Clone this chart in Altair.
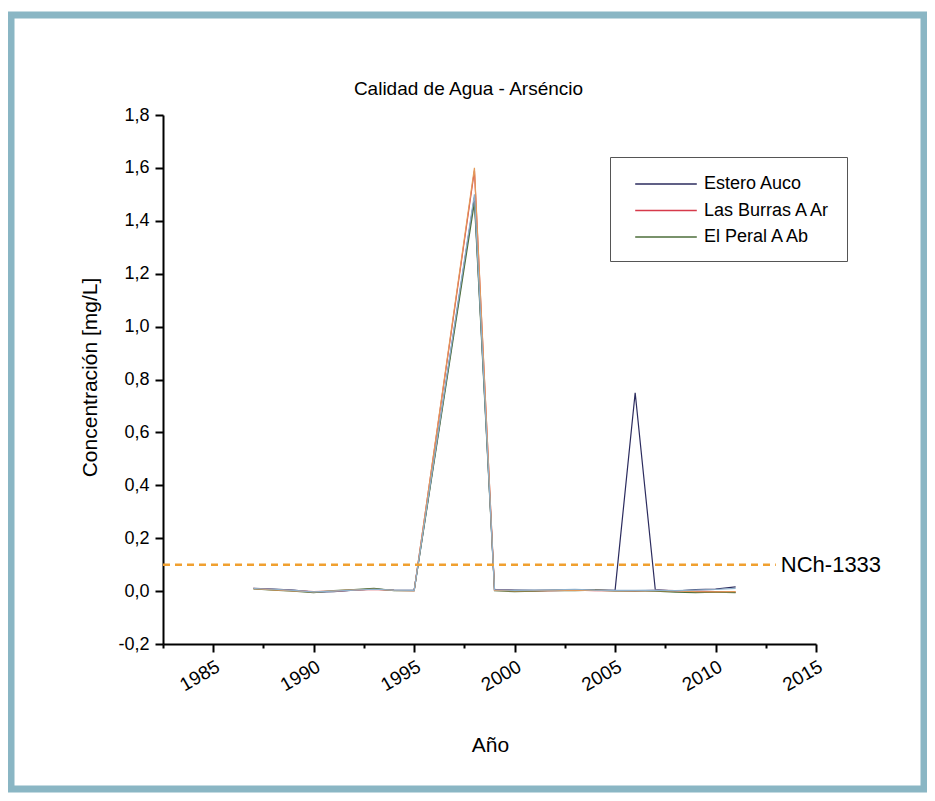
import altair as alt
import pandas as pd

FONT = "Liberation Sans"

# ---------------- data ----------------
years = [1987, 1988, 1989, 1990, 1991, 1992, 1993, 1994, 1995, 1998, 1999,
         2000, 2001, 2002, 2003, 2004, 2005, 2006, 2007, 2008, 2009, 2010, 2011]

estero_auco = [0.010, 0.008, 0.004, -0.004, -0.002, 0.004, 0.008, 0.004, 0.003, 1.49, 0.006,
               0.004, 0.003, 0.004, 0.006, 0.005, 0.003, 0.75, 0.006, 0.000, 0.006, 0.008, 0.016]
las_burras = [0.010, 0.006, 0.002, -0.002, 0.000, 0.004, 0.006, 0.003, 0.002, 1.59, 0.004,
              0.002, 0.001, 0.002, 0.004, 0.002, 0.002, 0.001, 0.003, 0.002, 0.000, -0.002, -0.004]
el_peral = [0.008, 0.004, 0.000, -0.006, 0.002, 0.006, 0.010, 0.002, 0.002, 1.47, 0.002,
            -0.002, 0.000, 0.003, 0.002, 0.004, 0.001, 0.002, 0.000, -0.004, -0.006, -0.004, -0.006]
serie_4 = [0.009, 0.005, 0.001, -0.003, 0.001, 0.005, 0.007, 0.003, 0.002, 1.60, 0.003,
           0.001, 0.002, 0.003, 0.003, 0.003, 0.002, 0.002, 0.002, 0.001, -0.002, -0.003, -0.002]
serie_5 = [0.010, 0.007, 0.003, -0.003, 0.000, 0.004, 0.007, 0.004, 0.003, 1.50, 0.005,
           0.003, 0.004, 0.005, 0.007, 0.004, 0.003, 0.003, 0.004, 0.002, 0.004, 0.006, 0.010]

series_names = ["Estero Auco", "Las Burras A Ar", "El Peral A Ab", "Serie 4", "Serie 5"]
legend_names = ["Estero Auco", "Las Burras A Ar", "El Peral A Ab"]
series_colors = ["#2b2b5e", "#d63a4a", "#4d6e3a", "#e39a5a", "#8fb0cc"]
series_values = [estero_auco, las_burras, el_peral, serie_4, serie_5]

norma_value = [0.1]
norma_label = ["NCh-1333"]
norma_x_start = [1982.5]
norma_x_end = [2013.0]

x_tick_values = [1982.5, 1985, 1987.5, 1990, 1992.5, 1995, 1997.5, 2000,
                 2002.5, 2005, 2007.5, 2010, 2012.5, 2015]
y_tick_values = [-0.2, -0.1, 0.0, 0.1, 0.2, 0.3, 0.4, 0.5, 0.6, 0.7, 0.8,
                 0.9, 1.0, 1.1, 1.2, 1.3, 1.4, 1.5, 1.6, 1.7, 1.8]

rows = []
for name, vals in zip(series_names, series_values):
    for yr, v in zip(years, vals):
        rows.append({"year": yr, "value": v, "serie": name})
df = pd.DataFrame(rows)

ref_df = pd.DataFrame({"x": norma_x_start, "x2": norma_x_end, "y": norma_value, "label": norma_label})
frame_df = pd.DataFrame({"a": [0]})

# ---------------- scales / axes ----------------
x_scale = alt.Scale(domain=[1982.5, 2015], nice=False, zero=False)
y_scale = alt.Scale(domain=[-0.2, 1.8], nice=False, zero=False)

x_axis = alt.Axis(
    values=x_tick_values,
    labelExpr="datum.value % 5 == 0 ? format(datum.value, 'd') : ''",
    labelAngle=-30, labelAlign="right", labelBaseline="top",
    labelFlush=False, labelOverlap=False, labelPadding=5,
    labelFontSize=19, labelFont=FONT, labelColor="black",
    tickSize={"condition": {"test": "datum.value % 5 != 0", "value": 4}, "value": 8},
    tickWidth=2, tickColor="black",
    domainColor="black", domainWidth=2, grid=False,
    title="Año", titleFontSize=21, titleFont=FONT, titleFontWeight="normal",
    titleColor="black", titleX=327, titleY=101, titleAlign="center", titleBaseline="middle",
)

y_axis = alt.Axis(
    values=y_tick_values,
    labelExpr="round(datum.value*10) % 2 == 0 ? replace(replace(format(datum.value, '.1f'), '.', ','), '\u2212', '-') : ''",
    labelFlush=False, labelOverlap=False, labelPadding=6,
    labelFontSize=18, labelFont=FONT, labelColor="black",
    tickSize={"condition": {"test": "round(datum.value*10) % 2 != 0", "value": 4}, "value": 8},
    tickWidth=2, tickColor="black",
    domainColor="black", domainWidth=2, grid=False,
    title="Concentración [mg/L]", titleFontSize=21, titleFont=FONT, titleFontWeight="normal",
    titleColor="black", titleX=-73, titleY=262, titleAngle=270,
    titleAlign="center", titleBaseline="middle",
)

legend = alt.Legend(
    values=legend_names, title=None, orient="none", legendX=447, legendY=42,
    strokeColor="#555555", fillColor="white", padding=15,
    symbolType="M-2.8,0H2.8", symbolSize=484, symbolStrokeWidth=1.3, symbolOffset=29,
    labelFontSize=18, labelFont=FONT, labelColor="black", labelOffset=26, rowPadding=5.5,
)

lines = alt.Chart(df).mark_line(strokeWidth=1.2).encode(
    x=alt.X("year:Q", scale=x_scale, axis=x_axis),
    y=alt.Y("value:Q", scale=y_scale, axis=y_axis),
    color=alt.Color("serie:N", scale=alt.Scale(domain=series_names, range=series_colors), legend=legend),
)

rule = alt.Chart(ref_df).mark_rule(color="#f0a030", strokeWidth=2.5, strokeDash=[7, 5]).encode(
    x=alt.X("x:Q", scale=x_scale, title="Año"),
    x2="x2:Q",
    y=alt.Y("y:Q", scale=y_scale, title="Concentración [mg/L]"),
)

label = alt.Chart(ref_df).mark_text(align="left", baseline="middle", dx=5, fontSize=22,
                                    font=FONT, color="black").encode(
    x=alt.X("x2:Q", scale=x_scale, title="Año"),
    y=alt.Y("y:Q", scale=y_scale, title="Concentración [mg/L]"),
    text="label:N",
)

frame = alt.Chart(frame_df).mark_rect(fillOpacity=0, stroke="#8ab6c4", strokeWidth=7).encode(
    x=alt.value(-152), x2=alt.value(761), y=alt.value(-100), y2=alt.value(674),
)

chart = alt.layer(lines, rule, label, frame).properties(
    width=653, height=529,
    background="white",
    autosize=alt.AutoSizeParams(type="none"),
    padding={"left": 155, "top": 107, "right": 111, "bottom": 149},
    title=alt.Title("Calidad de Agua - Arséncio", fontSize=19, font=FONT, fontWeight="normal",
                    color="black", anchor="middle", frame="group", dx=-21, dy=121, offset=19,
                    baseline="alphabetic"),
).configure_view(strokeWidth=0)

chart.save("out.html", embed_options={"renderer": "svg", "actions": False})
